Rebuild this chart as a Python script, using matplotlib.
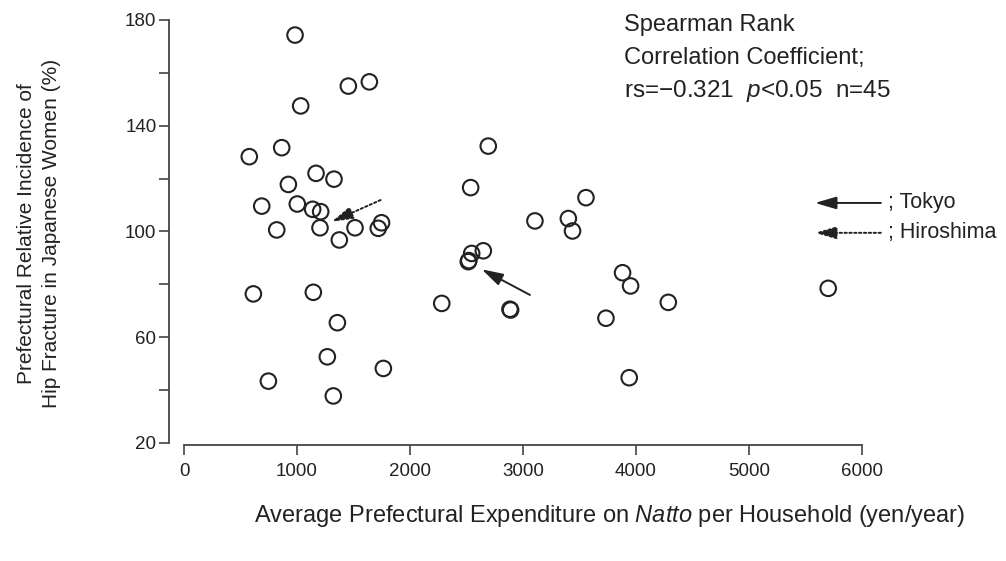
import matplotlib
matplotlib.use("Agg")
import matplotlib.pyplot as plt

plt.rcParams['font.family'] = ['Liberation Sans', 'DejaVu Sans']
plt.rcParams['mathtext.fontset'] = 'custom'
plt.rcParams['mathtext.rm'] = 'Liberation Sans'
plt.rcParams['mathtext.it'] = 'Liberation Sans:italic'

# Natto expenditure (yen/year) per prefecture
natto_expenditure = [983, 1455, 1641, 1033, 865, 578, 1169, 1328, 924,
                     688, 1003, 1139, 1210, 821, 1204, 1514, 1375, 1720, 1749,
                     614, 1145, 1358, 1269, 1765, 747, 1322,
                     2694, 2538, 3107, 3559, 3403, 3440, 2650, 2547, 2517, 2522,
                     2282, 2886, 2892, 3883, 3954, 4288, 3736, 3942, 5704]
# Relative incidence of hip fracture (%)
hip_fracture_incidence = [174.3, 155.0, 156.6, 147.5, 131.7, 128.3, 122.0, 119.8, 117.8,
                          109.6, 110.4, 108.4, 107.5, 100.6, 101.4, 101.4, 96.8, 101.2, 103.3,
                          76.4, 77.0, 65.5, 52.6, 48.2, 43.4, 37.8,
                          132.3, 116.6, 104.0, 112.8, 104.9, 100.2, 92.7, 91.7, 88.6, 89.0,
                          72.8, 70.6, 70.3, 84.4, 79.4, 73.2, 67.2, 44.7, 78.5]

x_ticks = [0, 1000, 2000, 3000, 4000, 5000, 6000]
y_major = [20, 60, 100, 140, 180]
y_minor = [40, 80, 120, 160]

W, H = 1006, 561
fig = plt.figure(figsize=(W / 100, H / 100), dpi=100)
ax = fig.add_axes([169 / W, (H - 445) / H, (870 - 169) / W, (445 - 20) / H])

ink = '#222222'
ax.scatter(natto_expenditure, hip_fracture_incidence, s=125, facecolors='none',
           edgecolors=ink, linewidths=1.5, zorder=3)

ax.set_xlim(-133, 6074)
ax.set_ylim(19.24, 180)
for s in ['top', 'right']:
    ax.spines[s].set_visible(False)
ax.spines['left'].set_bounds(20, 180)
ax.spines['bottom'].set_bounds(0, 6000)
for s in ['left', 'bottom']:
    ax.spines[s].set_color('#444444')
    ax.spines[s].set_linewidth(1.3)

ax.set_xticks(x_ticks)
ax.set_xticklabels([str(t) for t in x_ticks])
ax.set_yticks(y_major)
ax.set_yticklabels([str(t) for t in y_major])
ax.set_yticks(y_minor, minor=True)
ax.tick_params(axis='both', which='both', direction='out', color='#444444', width=1.2,
               labelsize=13.5, labelcolor=ink)
ax.tick_params(axis='y', which='both', length=7, pad=2)
ax.tick_params(axis='x', which='both', length=7, pad=6)

ax.set_xlabel('Average Prefectural Expenditure on $\\it{Natto}$ per Household (yen/year)',
              fontsize=17, color=ink, va='center')
ax.xaxis.set_label_coords(0.629, -0.167)
ax.set_ylabel('Prefectural Relative Incidence of\nHip Fracture in Japanese Women (%)',
              fontsize=15, color=ink, linespacing=1.4, va='center', ha='center')
ax.yaxis.set_label_coords(-(169 - 38.5) / 701, (443 - 232) / 425 + 0.0018)

# Statistics text
tx = 3896
ax.text(tx, 175.8, 'Spearman Rank', fontsize=17, color=ink, va='baseline', clip_on=False)
ax.text(tx, 163.3, 'Correlation Coefficient;', fontsize=17, color=ink, va='baseline', clip_on=False)
ax.text(tx, 150.9, 'rs=−0.321  $p$<0.05  n=45', fontsize=17.5, color=ink, va='baseline', clip_on=False)

arrow_kw = dict(arrowstyle='-|>,head_length=1.3,head_width=0.38', color=ink, lw=1.4,
                shrinkA=0, shrinkB=0)
dotted = (0, (1.2, 1.3))
# Tokyo arrow in the plot
ax.annotate('', xy=(2636, 85.7), xytext=(3063, 76.0), arrowprops=arrow_kw)
# Hiroshima arrow in the plot
ax.annotate('', xy=(1308, 103.7), xytext=(1741, 111.9),
            arrowprops=dict(arrow_kw, linestyle=dotted))

# Legend arrows
ax.annotate('', xy=(5587, 110.8), xytext=(6170, 110.8), arrowprops=arrow_kw,
            annotation_clip=False)
ax.annotate('', xy=(5587, 99.5), xytext=(6170, 99.5),
            arrowprops=dict(arrow_kw, linestyle=dotted), annotation_clip=False)
ax.text(6233, 110.8, '; Tokyo', fontsize=15.5, color=ink, va='center', clip_on=False)
ax.text(6233, 99.5, '; Hiroshima', fontsize=15.5, color=ink, va='center', clip_on=False)

fig.savefig('out.png', dpi=100)
